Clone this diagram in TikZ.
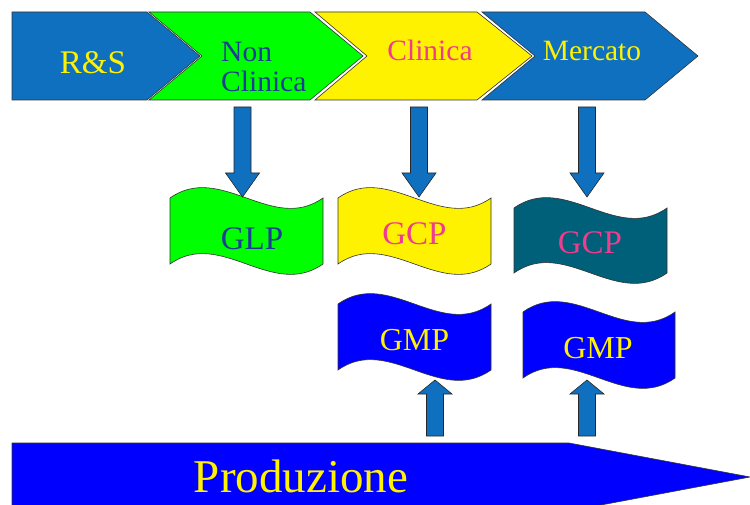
\documentclass[tikz,border=0pt]{standalone}
\usepackage{fontspec}
\setmainfont{Liberation Serif}
\usetikzlibrary{calc}
\definecolor{chevblue}{HTML}{1070C0}
\definecolor{navytext}{HTML}{1F3C96}
\definecolor{pinktext}{HTML}{F03C8C}
\definecolor{tealflag}{HTML}{00607A}
\tikzset{
  outline/.style={draw=black!80,line width=.6pt},
  arrowfill/.style={fill=chevblue,draw=black!85,line width=.6pt},
  lbl/.style={anchor=base,inner sep=0pt}
}
% wave flag: x0, x1, top, bottom
\newcommand\flag[5]{%
  \filldraw[outline,fill=#5] (#1,#3) .. controls ({#1+(#2-#1)/3},{#3-36}) and ({#1+2*(#2-#1)/3},{#3+36}) .. (#2,#3)
    -- (#2,#4) .. controls ({#1+2*(#2-#1)/3},{#4+36}) and ({#1+(#2-#1)/3},{#4-36}) .. (#1,#4) -- cycle;}
% block arrow: from, to, head length
\newcommand\fatarrow[3]{%
  \coordinate (fa-b) at ($(#2)!#3!(#1)$);
  \filldraw[arrowfill] ($(#1)!8.5pt!90:(#2)$) -- ($(fa-b)!8.5pt!90:(#2)$) -- ($(fa-b)!17pt!90:(#2)$)
    -- (#2) -- ($(fa-b)!17pt!-90:(#2)$) -- ($(fa-b)!8.5pt!-90:(#2)$) -- ($(#1)!8.5pt!-90:(#2)$) -- cycle;}
\begin{document}
\begin{tikzpicture}[x=1pt,y=-1pt]
\useasboundingbox (0,0) rectangle (750,505);
\clip (0,0) rectangle (750,505);
\fill[white] (0,0) rectangle (750,505);
\filldraw[outline,fill=chevblue] (12,12) -- (147,12) -- (200,56) -- (147,100) -- (12,100) -- cycle;
\filldraw[outline,fill=green] (149,12) -- (310,12) -- (363,56) -- (310,100) -- (149,100) -- (202,56) -- cycle;
\filldraw[outline,fill=yellow] (315,12) -- (477,12) -- (532,56) -- (477,100) -- (315,100) -- (367,56) -- cycle;
\filldraw[outline,fill=chevblue] (482,12) -- (645,12) -- (698,56) -- (645,100) -- (482,100) -- (535,56) -- cycle;
\node[lbl,text=yellow,font=\fontsize{33}{33}\selectfont] (rs) at (93,74) {R\&S};
\node[lbl,anchor=base west,text=navytext,font=\fontsize{29.5}{30}\selectfont] (noncl) at (221,62) {Non};
\node[lbl,anchor=base west,text=navytext,font=\fontsize{29.5}{30}\selectfont] (noncl2) at (221,92) {Clinica};
\node[lbl,text=pinktext,font=\fontsize{29.5}{30}\selectfont] (cli) at (430,61) {Clinica};
\node[lbl,text=yellow,font=\fontsize{29.5}{30}\selectfont] (merc) at (592,61) {Mercato};
\flag{170}{323}{198}{264}{green}
\flag{338}{491}{198}{264}{yellow}
\flag{338}{491}{304}{370}{blue}
\flag{514}{667}{208}{273}{tealflag}
\flag{523}{675}{312}{378}{blue}
\node[lbl,text=navytext,font=\fontsize{33}{33}\selectfont] (glp) at (252,250) {GLP};
\node[lbl,text=pinktext,font=\fontsize{33}{33}\selectfont] (gcpa) at (414.5,245) {GCP};
\node[lbl,text=yellow,font=\fontsize{32}{32}\selectfont] (gmpa) at (414.5,350) {GMP};
\node[lbl,text=pinktext,font=\fontsize{33}{33}\selectfont] (gcpb) at (590,254) {GCP};
\node[lbl,text=yellow,font=\fontsize{32}{32}\selectfont] (gmpb) at (598,358) {GMP};
\filldraw[outline,fill=blue] (12,443) -- (569,443) -- (750,477) -- (569,511) -- (12,511) -- cycle;
\node[lbl,text=yellow,font=\fontsize{47}{47}\selectfont] (prod) at (301,492) {Produzione};
\foreach \n/\x in {1/242.5,2/419,3/587} {
  \coordinate (ds\n) at (\x,107);
  \coordinate (de\n) at (\x,197);
  \fatarrow{ds\n}{de\n}{24pt}
}
\foreach \n/\x in {1/435,2/587} {
  \coordinate (us\n) at (\x,436);
  \coordinate (ue\n) at (\x,380);
  \fatarrow{us\n}{ue\n}{14pt}
}
\end{tikzpicture}
\end{document}
